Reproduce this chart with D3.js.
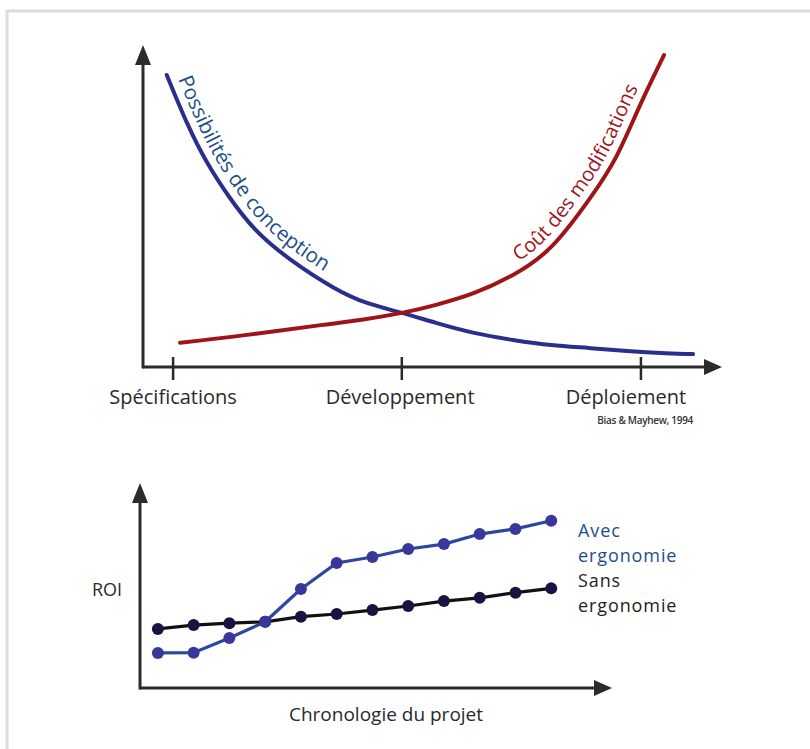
<!DOCTYPE html>
<html>
<head>
<meta charset="utf-8">
<script src="https://cdn.jsdelivr.net/npm/d3@7"></script>
<style>
  html, body { margin: 0; padding: 0; background: #fff; }
  svg { display: block; font-family: "Open Sans", "DejaVu Sans", sans-serif; }
</style>
</head>
<body>
<svg id="chart" width="810" height="749"></svg>
<script>
// ---------- DATA ----------
// Top chart (Bias & Mayhew, 1994): x = project time (0-100), y = relative level (0-100)
const phaseLabels = ["Spécifications", "Développement", "Déploiement"];
const phaseTimes  = [5.2, 44.7, 86.0];

const conceptionT = [4.1, 7.6, 11.1, 14.9, 19.5, 25.6, 32.8, 38.7, 44.7, 50.6, 57.2, 63.9, 70.5, 77.0, 83.6, 90.3, 95.0];
const conceptionV = [90.7, 75.8, 63.4, 52.8, 42.5, 33.2, 24.8, 19.9, 16.8, 13.7, 10.6, 8.4, 6.8, 5.9, 5.0, 4.3, 4.0];

const costT = [6.4, 17.6, 30.7, 37.5, 44.7, 50.6, 57.2, 63.9, 70.5, 77.0, 81.7, 85.7, 90.0];
const costV = [7.5, 9.9, 13.0, 14.6, 16.8, 19.3, 23.0, 28.6, 37.3, 51.9, 65.2, 80.7, 96.9];

const conceptionLabel = "Possibilités de conception";
const costLabel = "Coût des modifications";
const sourceLabel = "Bias & Mayhew, 1994";

// Bottom chart: ROI over project timeline (12 steps)
const steps = [1, 2, 3, 4, 5, 6, 7, 8, 9, 10, 11, 12];
const roiWith    = [17.1, 17.2, 24.4, 32.3, 48.3, 61.0, 63.9, 67.8, 70.2, 75.1, 77.6, 81.6];
const roiWithout = [28.8, 30.7, 31.6, 32.3, 34.8, 36.1, 38.0, 40.0, 42.4, 44.0, 46.5, 48.6];
const withLabel = ["Avec", "ergonomie"];
const withoutLabel = ["Sans", "ergonomie"];
const roiAxisLabel = "ROI";
const timeAxisLabel = "Chronologie du projet";

// ---------- DRAWING ----------
const svg = d3.select("#chart");
const axisColor = "#2b2b2b";
const blue = "#2b2f8c", red = "#9e1419";

// page frame
svg.append("line").attr("x1", 7).attr("x2", 810).attr("y1", 11).attr("y2", 11)
  .attr("stroke", "#dcdcdc").attr("stroke-width", 3);
svg.append("line").attr("x1", 7).attr("x2", 7).attr("y1", 10).attr("y2", 749)
  .attr("stroke", "#dcdcdc").attr("stroke-width", 3);

function arrowAxes(g, x0, y0, xEnd, yTop) {
  g.append("line").attr("x1", x0).attr("y1", y0).attr("x2", xEnd - 14).attr("y2", y0)
    .attr("stroke", axisColor).attr("stroke-width", 3);
  g.append("line").attr("x1", x0).attr("y1", y0 + 1.5).attr("x2", x0).attr("y2", yTop + 14)
    .attr("stroke", axisColor).attr("stroke-width", 3);
  g.append("path").attr("d", `M${xEnd},${y0} L${xEnd - 18},${y0 - 8} L${xEnd - 18},${y0 + 8} Z`).attr("fill", axisColor);
  g.append("path").attr("d", `M${x0},${yTop} L${x0 - 8},${yTop + 20} L${x0 + 8},${yTop + 20} Z`).attr("fill", axisColor);
}

// ----- Top chart -----
const gTop = svg.append("g");
const xT = d3.scaleLinear().domain([0, 100]).range([143, 722]);
const yT = d3.scaleLinear().domain([0, 100]).range([367, 45]);
arrowAxes(gTop, xT(0), yT(0), xT(100), yT(100));

// ticks + labels
phaseTimes.forEach((t) => {
  gTop.append("line").attr("x1", xT(t)).attr("x2", xT(t)).attr("y1", yT(0) - 10).attr("y2", yT(0) + 13)
    .attr("stroke", axisColor).attr("stroke-width", 2.5);
});
const labelCenters = [phaseTimes[0], phaseTimes[1] - 0.3, phaseTimes[2] - 2.6];
phaseLabels.forEach((s, i) => {
  gTop.append("text").attr("x", xT(labelCenters[i])).attr("y", 404)
    .attr("text-anchor", "middle").attr("font-size", 20).attr("fill", "#2a2a2a").text(s);
});
gTop.append("text").attr("x", 693).attr("y", 424).attr("text-anchor", "end")
  .attr("font-size", 10).attr("font-weight", 600).attr("fill", "#333").attr("letter-spacing", -0.3).text(sourceLabel);

const lineT = d3.line().x(d => xT(d[0])).y(d => yT(d[1])).curve(d3.curveNatural);
const conceptionData = conceptionT.map((t, i) => [t, conceptionV[i]]);
const costData = costT.map((t, i) => [t, costV[i]]);

const bluePath = gTop.append("path").attr("d", lineT(conceptionData)).attr("fill", "none")
  .attr("stroke", blue).attr("stroke-width", 4).attr("stroke-linecap", "round");
const redPath = gTop.append("path").attr("d", lineT(costData)).attr("fill", "none")
  .attr("stroke", red).attr("stroke-width", 4).attr("stroke-linecap", "round");

// offset paths for text along the curves
function offsetPath(pathNode, dist) {
  const L = pathNode.getTotalLength();
  const n = 200, pts = [];
  for (let i = 0; i <= n; i++) {
    const l = L * i / n;
    const p = pathNode.getPointAtLength(l);
    const a = pathNode.getPointAtLength(Math.max(0, l - 2));
    const b = pathNode.getPointAtLength(Math.min(L, l + 2));
    let dx = b.x - a.x, dy = b.y - a.y;
    const m = Math.hypot(dx, dy) || 1;
    pts.push([p.x + dist * dy / m, p.y - dist * dx / m]);
  }
  return d3.line().curve(d3.curveBasis)(pts);
}
function lengthAtX(pathNode, xTarget) {
  const L = pathNode.getTotalLength();
  for (let l = 0; l <= L; l += 0.5) {
    if (pathNode.getPointAtLength(l).x >= xTarget) return l;
  }
  return 0;
}
const defs = svg.append("defs");
defs.append("path").attr("id", "bluePathOff").attr("d", offsetPath(bluePath.node(), 9));
defs.append("path").attr("id", "redPathOff").attr("d", offsetPath(redPath.node(), 9));

const bOff = d3.select("#bluePathOff").node();
const rOff = d3.select("#redPathOff").node();

gTop.append("text").attr("font-size", 20.5).attr("fill", "#1d4f86")
  .append("textPath").attr("href", "#bluePathOff").attr("startOffset", lengthAtX(bOff, 178))
  .text(conceptionLabel);
gTop.append("text").attr("font-size", 20).attr("fill", "#9e1419")
  .append("textPath").attr("href", "#redPathOff").attr("startOffset", lengthAtX(rOff, 518))
  .text(costLabel);

// ----- Bottom chart -----
const gBot = svg.append("g");
const xB = d3.scaleLinear().domain([0.5, 13.7]).range([140, 612]);
const yB = d3.scaleLinear().domain([0, 100]).range([688, 483]);
arrowAxes(gBot, xB(0.5), yB(0), xB(13.7), yB(100));

const lineB = d3.line().x((d, i) => xB(steps[i])).y(d => yB(d));
gBot.append("path").attr("d", lineB(roiWithout)).attr("fill", "none").attr("stroke", "#111")
  .attr("stroke-width", 3.2);
gBot.append("path").attr("d", lineB(roiWith)).attr("fill", "none").attr("stroke", "#2b47a0")
  .attr("stroke-width", 3.2);
gBot.selectAll("circle.wo").data(roiWithout).join("circle").attr("class", "wo")
  .attr("cx", (d, i) => xB(steps[i])).attr("cy", d => yB(d)).attr("r", 6).attr("fill", "#1a1240");
gBot.selectAll("circle.wi").data(roiWith).join("circle").attr("class", "wi")
  .attr("cx", (d, i) => xB(steps[i])).attr("cy", d => yB(d)).attr("r", 6).attr("fill", "#3a369c");

withLabel.forEach((s, i) => gBot.append("text").attr("x", 578).attr("y", 537 + i * 25)
  .attr("font-size", 18).attr("letter-spacing", 0.9).attr("fill", "#1d4f86").text(s));
withoutLabel.forEach((s, i) => gBot.append("text").attr("x", 578).attr("y", 587 + i * 25)
  .attr("font-size", 18).attr("letter-spacing", 0.9).attr("fill", "#222").text(s));

gBot.append("text").attr("x", 92).attr("y", 596).attr("font-size", 18).attr("fill", "#2a2a2a").text(roiAxisLabel);
gBot.append("text").attr("x", 386).attr("y", 721).attr("text-anchor", "middle").attr("font-size", 19)
  .attr("fill", "#2a2a2a").text(timeAxisLabel);
</script>
</body>
</html>
